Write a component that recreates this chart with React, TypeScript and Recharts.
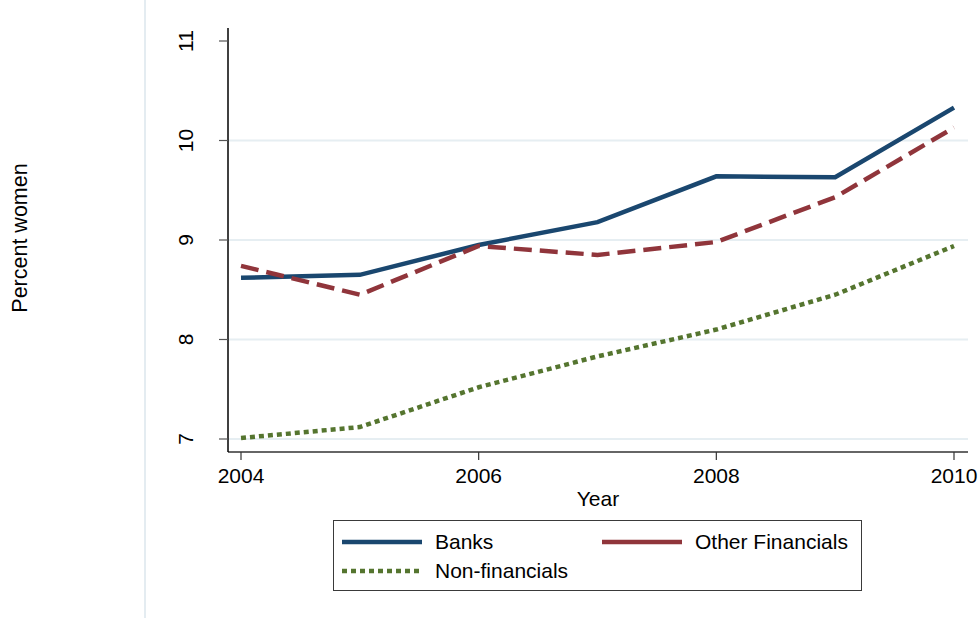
import React from 'react'
import { LineChart, Line, XAxis, YAxis, ReferenceLine } from 'recharts'

const years = [2004, 2005, 2006, 2007, 2008, 2009, 2010]
const banks = [8.62, 8.65, 8.95, 9.18, 9.64, 9.63, 10.33]
const otherFinancials = [8.74, 8.45, 8.94, 8.85, 8.98, 9.43, 10.13]
const nonFinancials = [7.01, 7.12, 7.52, 7.83, 8.1, 8.45, 8.94]

const xTicks = [2004, 2006, 2008, 2010]
const yTicks = [7, 8, 9, 10, 11]
const gridValues = [7, 8, 9, 10]

const FONT = 'Arial, "Liberation Sans", Helvetica, sans-serif'
const FS = 21

const seriesInfo = [
  { key: 'banks', name: 'Banks', color: '#1a476f', dash: undefined as string | undefined, legendDash: undefined as string | undefined },
  { key: 'other', name: 'Other Financials', color: '#90353b', dash: '18 8', legendDash: undefined },
  { key: 'nonfin', name: 'Non-financials', color: '#55752f', dash: '5 4', legendDash: '5 4' },
]

const data = years.map((year, i) => ({
  year,
  banks: banks[i],
  other: otherFinancials[i],
  nonfin: nonFinancials[i],
}))

const YTick = (props: any) => {
  const { x, y, payload } = props
  const tx = x - 24
  return (
    <text
      x={tx}
      y={y}
      transform={`rotate(-90 ${tx} ${y})`}
      textAnchor="middle"
      fontSize={FS}
      fontFamily={FONT}
      fill="#000"
    >
      {payload.value}
    </text>
  )
}

const LegendBox = () => {
  const rows = [
    [seriesInfo[0], seriesInfo[1]],
    [seriesInfo[2]],
  ]
  return (
    <div
      style={{
        position: 'absolute',
        left: 333,
        top: 520,
        width: 527,
        height: 69,
        border: '1.5px solid #3a3a3a',
        background: '#fff',
        fontFamily: FONT,
        fontSize: FS,
        color: '#000',
      }}
    >
      {rows.map((row, ri) => (
        <div
          key={ri}
          style={{ position: 'absolute', left: 0, top: ri === 0 ? 7 : 36, height: 28, width: '100%' }}
        >
          {row.map((s, ci) => (
            <div
              key={s.key}
              style={{ position: 'absolute', left: ci === 0 ? 8 : 268, top: 0, display: 'flex', alignItems: 'center', height: 28 }}
            >
              <svg width={80} height={10}>
                <line
                  x1={0}
                  y1={5}
                  x2={80}
                  y2={5}
                  stroke={s.color}
                  strokeWidth={4.5}
                  strokeDasharray={s.legendDash}
                />
              </svg>
              <span style={{ marginLeft: 13 }}>{s.name}</span>
            </div>
          ))}
        </div>
      ))}
    </div>
  )
}

export default function App() {
  return (
    <div style={{ position: 'absolute', left: 0, top: 0, width: 979, height: 618, background: '#fff', overflow: 'hidden' }}>
      <div style={{ position: 'absolute', left: 144, top: 0, width: 1.5, height: 618, background: '#e4ecf1' }} />
      <div
        style={{
          position: 'absolute',
          left: 27,
          top: 238,
          transform: 'translate(-50%, -50%) rotate(-90deg)',
          fontFamily: FONT,
          fontSize: 21.5,
          whiteSpace: 'nowrap',
          lineHeight: 1,
          transformOrigin: 'center',
        }}
      >
        <span style={{ display: 'inline-block', transform: 'translateY(-6px)' }}>Percent women</span>
      </div>
      <LineChart
        width={979}
        height={618}
        data={data}
        margin={{ top: 28, right: 11, bottom: 106, left: 0 }}
        style={{ position: 'absolute', left: 0, top: 0 }}
      >
        {gridValues.map((v) => (
          <ReferenceLine key={v} y={v} stroke="#e6eef2" strokeWidth={2} />
        ))}
        <XAxis
          dataKey="year"
          type="number"
          domain={[2004, 2010]}
          ticks={xTicks}
          padding={{ left: 13, right: 14 }}
          axisLine={{ stroke: '#666', strokeWidth: 2 }}
          tickLine={{ stroke: '#333', strokeWidth: 1.2 }}
          tickSize={8}
          tickMargin={8}
          tick={{ fontSize: FS, fill: '#000', fontFamily: FONT }}
          height={60}
          label={{ value: 'Year', position: 'insideBottom', offset: 6, fontSize: FS, fill: '#000', fontFamily: FONT }}
        />
        <YAxis
          type="number"
          domain={[7, 11]}
          ticks={yTicks}
          padding={{ top: 13, bottom: 13 }}
          width={228}
          axisLine={{ stroke: '#000', strokeWidth: 1.5 }}
          tickLine={{ stroke: '#555', strokeWidth: 1.2 }}
          tickSize={9}
          tick={<YTick />}
        />
        {seriesInfo.map((s) => (
          <Line
            key={s.key}
            dataKey={s.key}
            name={s.name}
            type="linear"
            stroke={s.color}
            strokeWidth={4.5}
            strokeDasharray={s.dash}
            dot={false}
            activeDot={false}
            isAnimationActive={false}
          />
        ))}
      </LineChart>
      <LegendBox />
    </div>
  )
}
